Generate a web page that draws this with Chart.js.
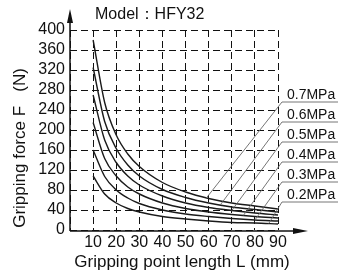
<!DOCTYPE html>
<html><head><meta charset="utf-8">
<script src="https://cdn.jsdelivr.net/npm/chart.js@4/dist/chart.umd.min.js"></script>
<style>html,body{margin:0;padding:0;background:#fff}#wrap{width:338px;height:272px}</style>
</head><body><div id="wrap"><canvas id="c" width="338" height="272"></canvas></div>
<script>
const titleText = 'Model：HFY32';
const xTitle = 'Gripping point length L (mm)';
const yTitle = 'Gripping force F   (N)';
const pressures = ['0.7MPa','0.6MPa','0.5MPa','0.4MPa','0.3MPa','0.2MPa'];
const lengths = [10,15,20,25,30,40,50,60,70,80,90];
const f07 = [380,255,190,152,127,95,76,63,54,48,42];
const f06 = [325,217,163,130,108,81,65,54,46,41,36];
const f05 = [270,180,135,108,90,68,54,45,39,34,30];
const f04 = [215,143,108,86,72,54,43,36,31,27,24];
const f03 = [160,107,80,64,53,40,32,27,23,20,18];
const f02 = [108,72,54,43,36,27,22,18,15,14,12];
const series = [f07,f06,f05,f04,f03,f02];
const leaderL = [59,65,70,75,80,86];
const leaderF = [64,50,39,29,20,13];
const xTicks = [10,20,30,40,50,60,70,80,90];
const yTicks = [0,40,80,120,160,200,240,280,320,360,400];

const FONT = '"Liberation Sans", Arial, sans-serif';

const datasets = series.map((vals,i)=>({
  label: pressures[i],
  data: lengths.map((L,j)=>({x:L,y:vals[j]})),
  showLine:true, borderColor:'#1a1a1a', borderWidth:1.4, pointRadius:0,
  cubicInterpolationMode:'monotone', fill:false
}));

const deco = {
  id:'deco',
  afterDraw(chart){
    const ctx = chart.ctx, a = chart.chartArea;
    const xs = chart.scales.x, ys = chart.scales.y;
    ctx.save();
    ctx.strokeStyle='#111'; ctx.fillStyle='#111'; ctx.lineWidth=1.5; ctx.setLineDash([]);
    ctx.beginPath(); ctx.moveTo(a.left, a.bottom+1); ctx.lineTo(a.left, 20); ctx.stroke();
    ctx.beginPath(); ctx.moveTo(a.left, a.bottom+1); ctx.lineTo(296, a.bottom+1); ctx.stroke();
    ctx.beginPath(); ctx.moveTo(a.left,9); ctx.lineTo(a.left-3,23); ctx.lineTo(a.left+3,23); ctx.closePath(); ctx.fill();
    ctx.beginPath(); ctx.moveTo(308,a.bottom+1); ctx.lineTo(293,a.bottom-2); ctx.lineTo(293,a.bottom+4); ctx.closePath(); ctx.fill();
    ctx.lineWidth=0.9; ctx.strokeStyle='#666';
    ctx.font = '14px '+FONT; ctx.textAlign='left'; ctx.textBaseline='alphabetic';
    pressures.forEach((p,i)=>{
      const uy = a.top + 72 + i*20;
      const ux = a.right + 4;
      ctx.beginPath(); ctx.moveTo(ux, uy); ctx.lineTo(338, uy); ctx.stroke();
      ctx.beginPath(); ctx.moveTo(ux, uy); ctx.lineTo(xs.getPixelForValue(leaderL[i]), ys.getPixelForValue(leaderF[i])); ctx.stroke();
      ctx.fillStyle='#111';
      ctx.fillText(p, a.right+9, uy-3);
    });
    ctx.fillStyle='#111';
    ctx.font='16px '+FONT; ctx.textAlign='left'; ctx.textBaseline='middle';
    ctx.fillText(titleText, 95, 15);
    ctx.font='17px '+FONT; ctx.textAlign='center';
    ctx.fillText(xTitle, 182, 262);
    ctx.save(); ctx.translate(20,148); ctx.rotate(-Math.PI/2); ctx.fillText(yTitle,0,0); ctx.restore();
    ctx.restore();
  }
};

new Chart(document.getElementById('c'), {
  type:'scatter',
  data:{datasets},
  plugins:[deco],
  options:{
    responsive:false, animation:false, devicePixelRatio:1,
    layout:{padding:{top:30,right:60,left:0,bottom:0}},
    plugins:{legend:{display:false},tooltip:{enabled:false},title:{display:false}},
    scales:{
      x:{type:'linear',min:0,max:90,
        afterFit(s){s.height=42;},
        afterBuildTicks(s){s.ticks=[0].concat(xTicks).map(v=>({value:v}));},
        ticks:{padding:3,color:'#111',font:{family:FONT,size:16},maxRotation:0,autoSkip:false,
          callback:(v)=> v===0?'':String(v)},
        grid:{color:'#111',lineWidth:1,drawTicks:false},
        border:{display:false,dash:[7,4]}
      },
      y:{type:'linear',min:0,max:400,
        afterFit(s){s.width=70;},
        afterBuildTicks(s){s.ticks=yTicks.map(v=>({value:v}));},
        ticks:{padding:5,color:'#111',font:{family:FONT,size:16},autoSkip:false},
        grid:{color:'#111',lineWidth:1,drawTicks:false},
        border:{display:false,dash:[7,4]}
      }
    }
  }
});
</script></body></html>
